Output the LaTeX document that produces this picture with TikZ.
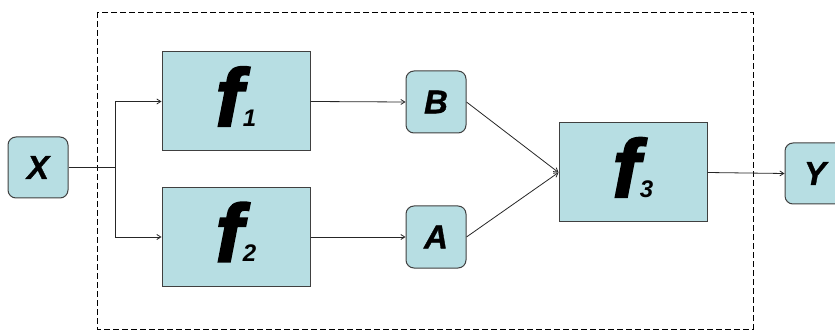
\documentclass[tikz,border=0pt]{standalone}
\usepackage{fontspec}
\setmainfont{Liberation Sans}
\newfontfamily\fheavy{Liberation Sans}[BoldItalicFeatures={FakeBold=2.5}]
\newfontfamily\lheavy{Liberation Sans}[BoldItalicFeatures={FakeBold=1}]
\usetikzlibrary{arrows.meta}
\definecolor{boxfill}{RGB}{183,222,227}
\definecolor{boxline}{RGB}{64,64,64}
\tikzset{
  fbox/.style={draw=boxline, line width=1pt, fill=boxfill, minimum width=148pt, minimum height=99pt, inner sep=0pt},
  vbox/.style={draw=boxline, line width=1pt, fill=boxfill, rounded corners=8pt, minimum width=60pt, minimum height=61pt, inner sep=0pt,
    font=\lheavy\fontsize{33}{33}\selectfont\bfseries\itshape},
  arr/.style={draw=black!85, line width=0.8pt, -{Straight Barb[length=4pt,width=5pt]}},
  conn/.style={draw=black!85, line width=0.8pt},
  frame/.style={draw=black, line width=0.9pt, dash pattern=on 6pt off 3pt},
}
\newcommand{\fname}[1]{\raisebox{5pt}[\height][\depth]{{\fheavy\fontsize{82}{82}\selectfont\bfseries\itshape f}{\fontsize{24}{24}\selectfont\bfseries\itshape #1}}}
\begin{document}
\begin{tikzpicture}[x=1pt,y=-1pt]
\useasboundingbox (0,0) rectangle (835,331);
\clip (0,0) rectangle (835,331);
\draw[frame] (97,12) rectangle (753,329);
\node[vbox] (X) at (38,167.5) {X};
\node[fbox] (f1) at (236,101.5) {\fname{1}};
\node[fbox] (f2) at (236,237) {\fname{2}};
\node[vbox, minimum height=62pt] (B) at (436,102) {B};
\node[vbox, minimum height=62pt] (A) at (436,237) {A};
\node[fbox] (f3) at (633,172.5) {\fname{3}};
\node[vbox] (Y) at (815,173.5) {Y};
\coordinate (split) at (115,167.5);
\draw[conn] (X.east) -- (split);
\draw[arr] (split) |- (f1.west);
\draw[arr] (split) |- (f2.west);
\draw[arr] (f1.east) -- (B.west);
\draw[arr] (f2.east) -- (A.west);
\draw[arr] (B.east) -- (f3.west);
\draw[arr] (A.east) -- (f3.west);
\draw[arr] (f3.east) -- (Y.west);
\end{tikzpicture}
\end{document}
